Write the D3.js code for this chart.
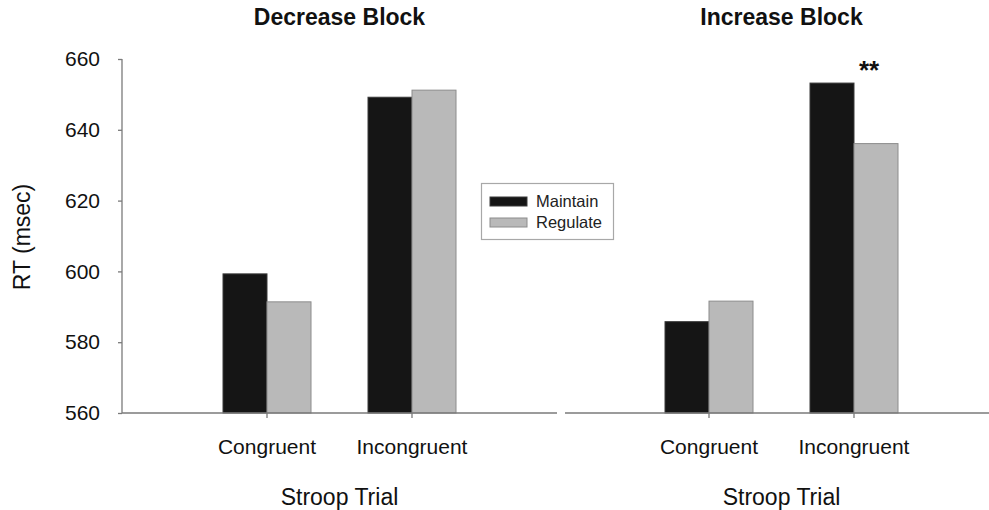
<!DOCTYPE html>
<html>
<head>
<meta charset="utf-8">
<script src="https://cdn.jsdelivr.net/npm/d3@7"></script>
<style>
  html, body { margin: 0; padding: 0; background: #fff; }
  svg { display: block; font-family: "Liberation Sans", Arial, sans-serif; }
</style>
</head>
<body>
<svg id="chart" width="989" height="510"></svg>
<script>
const panelTitles = ["Decrease Block", "Increase Block"];
const categories = ["Congruent", "Incongruent"];
const seriesNames = ["Maintain", "Regulate"];
const decreaseMaintain = [599.3, 649.2];
const decreaseRegulate = [591.4, 651.2];
const increaseMaintain = [585.8, 653.2];
const increaseRegulate = [591.6, 636.1];
const yTicks = [560, 580, 600, 620, 640, 660];
const xAxisTitle = "Stroop Trial";
const yAxisTitle = "RT (msec)";
const sigMark = "**";

const colors = { Maintain: "#151515", Regulate: "#b9b9b9" };
const strokes = { Maintain: "#3a3a3a", Regulate: "#8c8c8c" };

const svg = d3.select("#chart");
const y = d3.scaleLinear().domain([560, 660]).range([413, 59]);

const panelData = [
  { title: panelTitles[0], values: { Maintain: decreaseMaintain, Regulate: decreaseRegulate }, x0: 122, axis: true },
  { title: panelTitles[1], values: { Maintain: increaseMaintain, Regulate: increaseRegulate }, x0: 564, axis: false }
];

const sub = d3.scaleBand().domain(seriesNames).range([-44, 44]).paddingInner(0);

panelData.forEach((p, pi) => {
  const x = d3.scalePoint().domain(["_start", ...categories, "_end"]).range([p.x0, p.x0 + 435]);
  const g = svg.append("g");

  categories.forEach((c, ci) => {
    seriesNames.forEach(s => {
      const v = p.values[s][ci];
      g.append("rect")
        .attr("x", x(c) + sub(s))
        .attr("y", y(v))
        .attr("width", sub.bandwidth())
        .attr("height", y(560) - y(v))
        .attr("fill", colors[s])
        .attr("stroke", strokes[s])
        .attr("stroke-width", 1);
    });
  });

  g.append("line")
    .attr("x1", p.axis ? p.x0 : p.x0 + 1).attr("x2", p.x0 + 435)
    .attr("y1", y(560)).attr("y2", y(560))
    .attr("stroke", "#7a7a7a").attr("stroke-width", 1.3);

  categories.forEach(c => {
    g.append("line")
      .attr("x1", x(c)).attr("x2", x(c))
      .attr("y1", y(560)).attr("y2", y(560) + 5)
      .attr("stroke", "#7a7a7a").attr("stroke-width", 1.3);
    g.append("text")
      .attr("x", x(c)).attr("y", 454)
      .attr("text-anchor", "middle")
      .attr("font-size", 21).attr("fill", "#111")
      .text(c);
  });

  g.append("text")
    .attr("x", p.x0 + 217.5).attr("y", 505)
    .attr("text-anchor", "middle")
    .attr("font-size", 23).attr("fill", "#111")
    .text(xAxisTitle);

  g.append("text")
    .attr("x", p.x0 + 217.5).attr("y", 25)
    .attr("text-anchor", "middle")
    .attr("font-size", 23).attr("font-weight", "bold").attr("fill", "#111")
    .text(p.title);

  if (p.axis) {
    const ax = g.append("g").attr("transform", `translate(${p.x0},0)`)
      .call(d3.axisLeft(y).tickValues(yTicks).tickSize(4).tickPadding(18).tickFormat(d3.format("d")));
    ax.select(".domain").attr("stroke", "#7a7a7a").attr("stroke-width", 1.3).attr("d", `M0,${y(660)}V${y(560)}`);
    ax.selectAll(".tick line").attr("stroke", "#7a7a7a").attr("stroke-width", 1.3);
    ax.selectAll(".tick text").attr("font-size", 21).attr("fill", "#111")
      .attr("font-family", "'Liberation Sans', Arial, sans-serif");
  }
});

svg.append("text")
  .attr("transform", "translate(22,237) rotate(-90)")
  .attr("text-anchor", "middle")
  .attr("dominant-baseline", "central")
  .attr("font-size", 23).attr("fill", "#111")
  .text(yAxisTitle);

svg.append("text")
  .attr("x", 869).attr("y", 79)
  .attr("text-anchor", "middle")
  .attr("font-size", 26).attr("font-weight", "bold").attr("fill", "#111")
  .text(sigMark);

const lg = svg.append("g");
lg.append("rect").attr("x", 481.5).attr("y", 183.5).attr("width", 132).attr("height", 56)
  .attr("fill", "#fff").attr("stroke", "#a8a8a8").attr("stroke-width", 1.2);
seriesNames.forEach((s, i) => {
  const yy = 197 + i * 21;
  lg.append("rect").attr("x", 490).attr("y", yy).attr("width", 37).attr("height", 9)
    .attr("fill", colors[s]).attr("stroke", strokes[s]).attr("stroke-width", 1);
  lg.append("text").attr("x", 536).attr("y", yy + 10)
    .attr("font-size", 16.5).attr("fill", "#222").text(s);
});
</script>
</body>
</html>
